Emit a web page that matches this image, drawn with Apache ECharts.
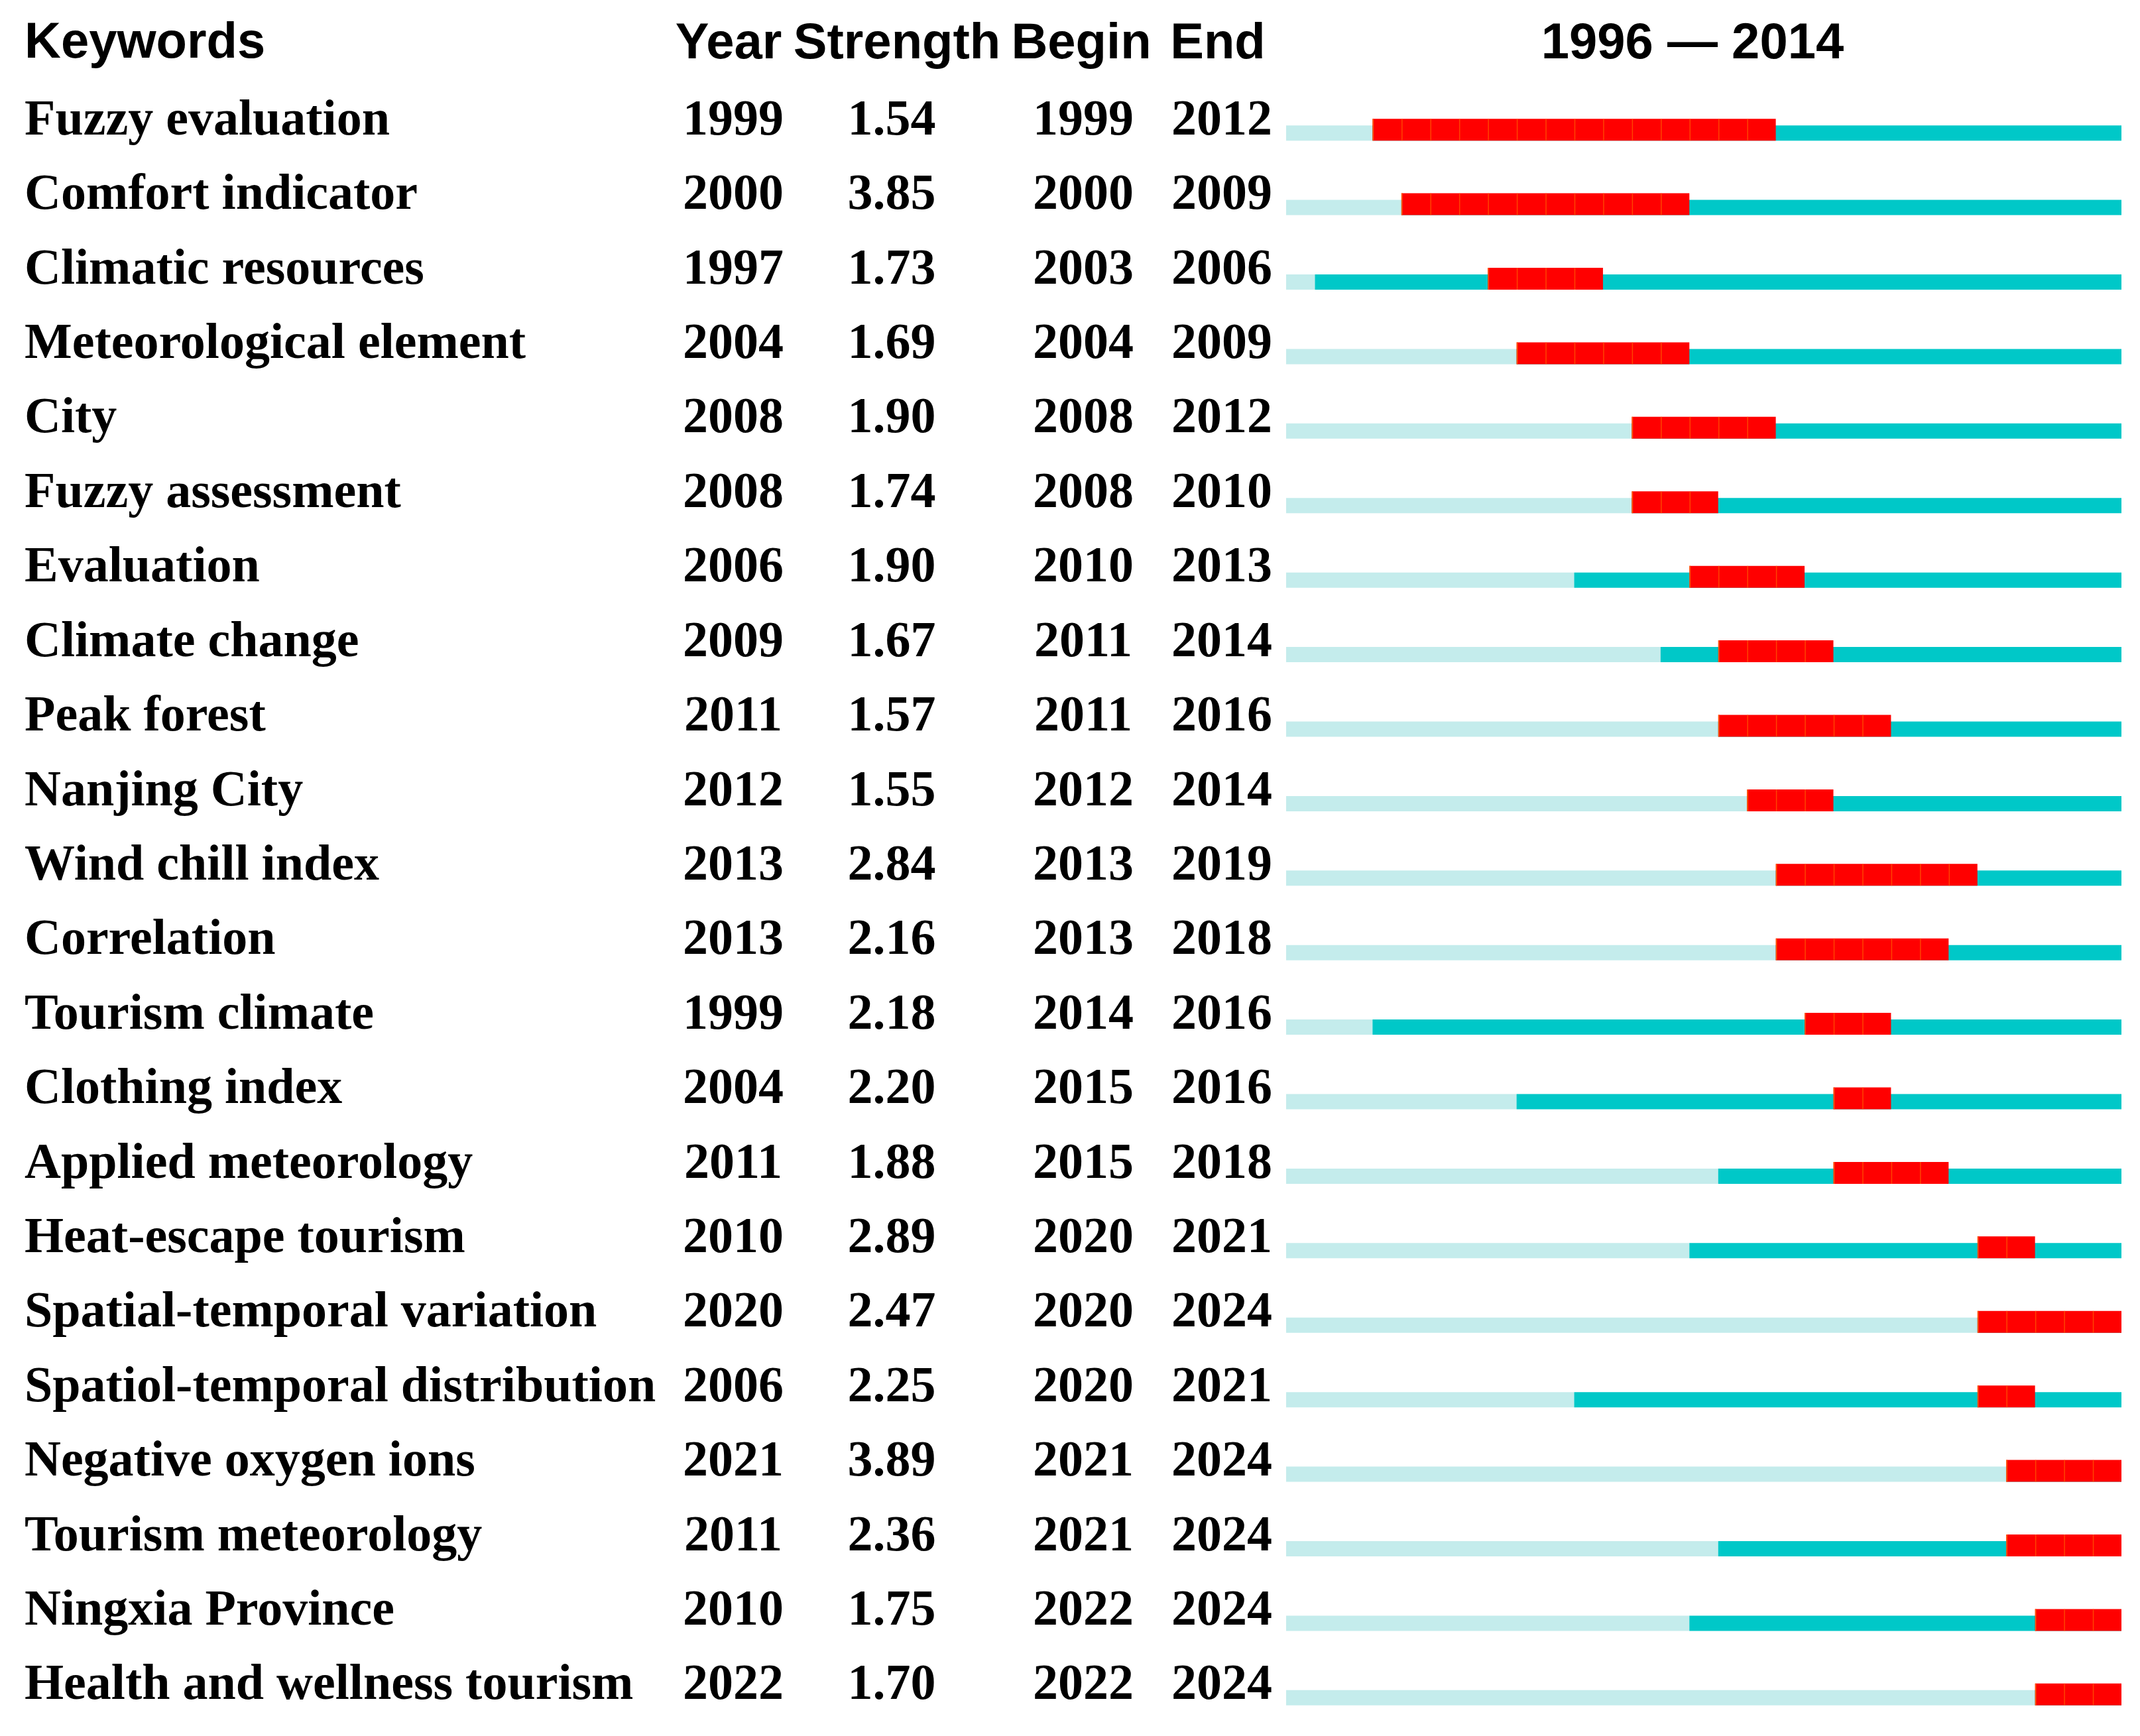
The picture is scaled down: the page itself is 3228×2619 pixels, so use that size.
<!DOCTYPE html>
<html>
<head>
    <meta charset="utf-8">
    <title>Keyword bursts</title>
    <script src="https://cdn.jsdelivr.net/npm/echarts@6/dist/echarts.min.js"></script>
    <style>
        * { padding: 0; margin: 0; }
        body { background: #fff; }
    </style>
</head>
<body>
    <div id="main" style="width:3228px;height:2619px;"></div>
    <script type="text/javascript">
        // data
        var keywords = ['Fuzzy evaluation', 'Comfort indicator', 'Climatic resources', 'Meteorological element',
            'City', 'Fuzzy assessment', 'Evaluation', 'Climate change', 'Peak forest', 'Nanjing City',
            'Wind chill index', 'Correlation', 'Tourism climate', 'Clothing index', 'Applied meteorology',
            'Heat-escape tourism', 'Spatial-temporal variation', 'Spatiol-temporal distribution',
            'Negative oxygen ions', 'Tourism meteorology', 'Ningxia Province', 'Health and wellness tourism'];
        var firstYear = [1999, 2000, 1997, 2004, 2008, 2008, 2006, 2009, 2011, 2012, 2013, 2013, 1999, 2004, 2011, 2010, 2020, 2006, 2021, 2011, 2010, 2022];
        var strength = [1.54, 3.85, 1.73, 1.69, 1.90, 1.74, 1.90, 1.67, 1.57, 1.55, 2.84, 2.16, 2.18, 2.20, 1.88, 2.89, 2.47, 2.25, 3.89, 2.36, 1.75, 1.70];
        var beginYear = [1999, 2000, 2003, 2004, 2008, 2008, 2010, 2011, 2011, 2012, 2013, 2013, 2014, 2015, 2015, 2020, 2020, 2020, 2021, 2021, 2022, 2022];
        var endYear = [2012, 2009, 2006, 2009, 2012, 2010, 2013, 2014, 2016, 2014, 2019, 2018, 2016, 2016, 2018, 2021, 2024, 2021, 2024, 2024, 2024, 2024];
        var yearMin = 1996, yearMax = 2024;
        var headers = ['Keywords', 'Year', 'Strength', 'Begin', 'End'];
        var spanTitle = '1996 \u2014 2014';

        var myChart = echarts.init(document.getElementById('main'));

        var rows = keywords.map(function (k, i) {
            return [i, firstYear[i], beginYear[i], endYear[i], strength[i]];
        });

        var serif = 'Liberation Serif, Times New Roman, serif';
        var sans = 'Liberation Sans, Arial, sans-serif';
        var keyX = 37;                         // left edge of the keyword column
        var colX = [1106, 1345, 1634, 1843];   // centres of the number columns
        var headX = [1099, 1353, 1631, 1837];
        var textShift = 6;                     // text sits a little lower than the band centre

        function renderBar(params, api) {
            var i = api.value(0);
            var yc = api.coord([yearMin, i])[1];
            var x0 = api.coord([yearMin, i])[0];
            var xf = api.coord([api.value(1), i])[0];
            var xe = api.coord([yearMax + 1, i])[0];
            var b = api.value(2), e = api.value(3);
            var xb = api.coord([b, i])[0];
            var xr = api.coord([e + 1, i])[0];
            var bottom = yc + 35;
            var children = [
                { type: 'rect', shape: { x: x0, y: bottom - 23, width: xf - x0, height: 23 }, style: { fill: '#c4ecec' } },
                { type: 'rect', shape: { x: xf, y: bottom - 23, width: xe - xf, height: 23 }, style: { fill: '#00c8c8' } },
                { type: 'rect', shape: { x: xb, y: bottom - 33, width: xr - xb, height: 33 }, style: { fill: '#ff0000' } }
            ];
            for (var yr = b; yr <= e; yr++) {
                var xx = api.coord([yr, i])[0];
                children.push({
                    type: 'line',
                    shape: { x1: xx + 1, y1: bottom - 33, x2: xx + 1, y2: bottom },
                    style: { stroke: '#ff6000', lineWidth: 1.5, opacity: yr === b ? 1 : 0.7 }
                });
            }
            return { type: 'group', children: children };
        }

        function renderText(params, api) {
            var i = api.value(0);
            var yc = api.coord([yearMin, i])[1] + textShift;
            var font = 'bold 76px ' + serif;
            var vals = [String(api.value(1)), api.value(4).toFixed(2), String(api.value(2)), String(api.value(3))];
            var children = [{
                type: 'text', x: keyX, y: yc,
                style: { text: keywords[i], fill: '#000', align: 'left', verticalAlign: 'middle', font: font }
            }];
            vals.forEach(function (v, k) {
                children.push({
                    type: 'text', x: colX[k], y: yc,
                    style: { text: v, fill: '#000', align: 'center', verticalAlign: 'middle', font: font }
                });
            });
            return { type: 'group', children: children };
        }

        var headerGraphics = [{
            type: 'text', left: 37, top: 28,
            style: { text: headers[0], fill: '#000', font: 'bold 76px ' + sans }
        }];
        for (var h = 1; h < headers.length; h++) {
            headerGraphics.push({
                type: 'text', x: headX[h - 1], y: 67,
                style: { text: headers[h], fill: '#000', align: 'center', verticalAlign: 'middle', font: 'bold 76px ' + sans }
            });
        }
        headerGraphics.push({
            type: 'text', x: 2553, y: 67,
            style: { text: spanTitle, fill: '#000', align: 'center', verticalAlign: 'middle', font: 'bold 76px ' + sans }
        });

        var option = {
            backgroundColor: '#ffffff',
            animation: false,
            grid: { left: 1940, right: 28, top: 121, bottom: 25 },
            xAxis: {
                type: 'value', min: yearMin, max: yearMax + 1, show: false
            },
            yAxis: {
                type: 'category',
                data: keywords,
                inverse: true,
                axisLine: { show: false },
                axisTick: { show: false },
                splitLine: { show: false },
                axisLabel: { show: false }
            },
            graphic: headerGraphics,
            series: [{
                type: 'custom',
                renderItem: renderBar,
                data: rows,
                encode: { y: 0, x: [1, 2, 3] },
                clip: false
            }, {
                type: 'custom',
                renderItem: renderText,
                data: rows,
                encode: { y: 0 },
                clip: false
            }]
        };
        myChart.setOption(option);
        window.onresize = myChart.resize;
    </script>
</body>
</html>
